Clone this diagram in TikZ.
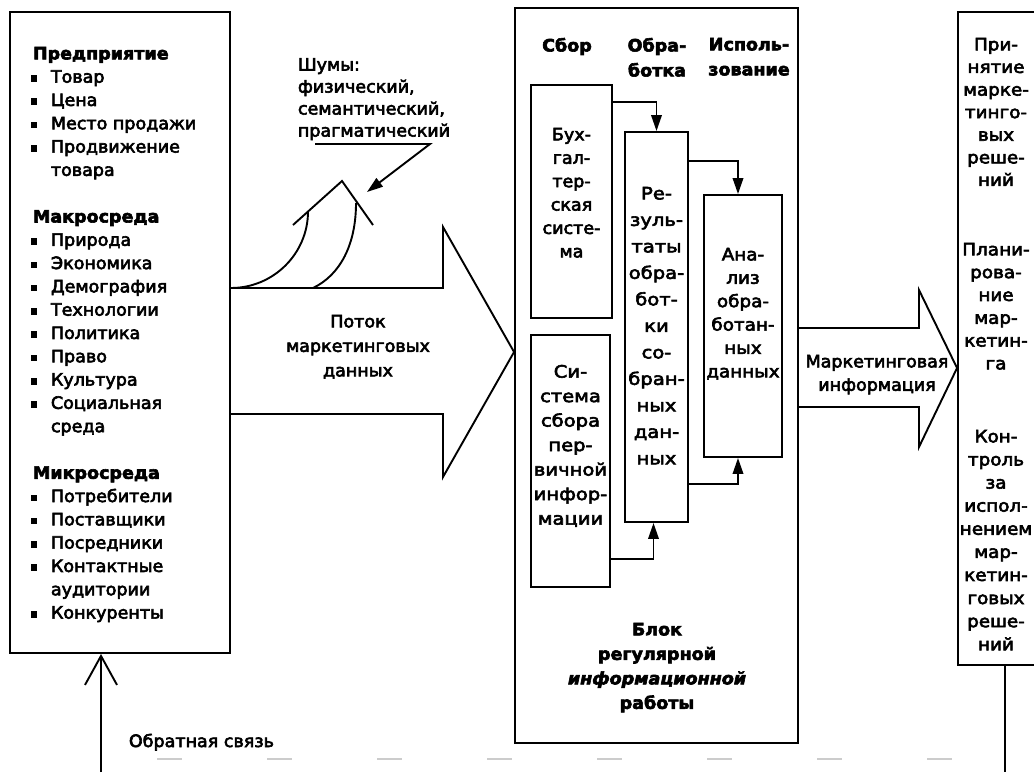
\documentclass[tikz,border=0pt]{standalone}
\usepackage{fontspec}
\setmainfont[FakeStretch=1.03,FakeBold=3.5]{DejaVu Sans}
\newfontfamily\wideA[FakeStretch=1.15,FakeBold=3.5]{DejaVu Sans}
\newfontfamily\wideD[FakeStretch=1.08,FakeBold=3.5]{DejaVu Sans}
\usetikzlibrary{arrows.meta}

% list bullet, continuation indent and section heading for the left panel
\newcommand{\blt}{\makebox[20pt][l]{\rule[1pt]{6.5pt}{6.5pt}}}
\newcommand{\ind}{\hspace*{20pt}}
\newcommand{\hdr}[1]{\hspace*{2pt}\textbf{#1}}

\begin{document}
\begin{tikzpicture}[x=1pt,y=-1pt,line width=1.9pt,line join=miter,
  txt/.style={inner sep=0pt,align=center,font=\fontsize{17}{23.4}\selectfont},
  boxnode/.style={draw,inner sep=0pt},
  conn/.style={-{Triangle[length=16pt,width=10.5pt]}},
  faint/.style={gray!40,line width=1.3pt,dash pattern=on 25pt off 85pt}]

\useasboundingbox (0,0) rectangle (1034,772);
\clip (0,0) rectangle (1034,772);

% ---------- main blocks ----------
\node[boxnode,minimum width=220pt,minimum height=641pt] (L) at (120,332.5) {};
\node[boxnode,minimum width=283pt,minimum height=735pt] (M) at (656.5,375.5) {};
\node[boxnode,minimum width=78pt,minimum height=653pt] (R) at (997,338.5) {};

% ---------- left panel: environment factors ----------
\node[txt,align=left,anchor=north west,font=\fontsize{17}{23.3}\selectfont] (Ltxt) at (30,46) {%
\hdr{Предприятие}\\
\blt Товар\\
\blt Цена\\
\blt Место продажи\\
\blt Продвижение\\
\ind товара\\[23.3pt]
\hdr{Макросреда}\\
\blt Природа\\
\blt Экономика\\
\blt Демография\\
\blt Технологии\\
\blt Политика\\
\blt Право\\
\blt Культура\\
\blt Социальная\\
\ind среда\\[23.3pt]
\hdr{Микросреда}\\
\blt Потребители\\
\blt Поставщики\\
\blt Посредники\\
\blt Контактные\\
\ind аудитории\\
\blt Конкуренты};

% ---------- data flow arrow ----------
\draw (L.east |- 0,288) -- (443,288) -- (443,227) -- (M.west |- 0,352)
      -- (443,477) -- (443,414) -- (L.east |- 0,414);
\node[txt,anchor=north,font=\fontsize{17}{24.5}\selectfont] (flow) at (358,314)
  {Поток\\маркетинговых\\данных};

% ---------- noise ----------
\draw (L.east |- 0,288) .. controls (273.5,288) and (308,253.5) .. (308,211.5);
\draw (313,288) .. controls (340,275) and (356,245) .. (356,203);
\draw (293,225) -- (342,181) -- (373,225);
\node[txt,align=left,anchor=south west,font=\fontsize{17}{22}\selectfont] (noise) at (297,141)
  {Шумы:\\физический,\\семантический,\\прагматический};
\coordinate (nz1) at (315,144);
\coordinate (nz2) at (430,144);
\coordinate (nz3) at (367,192);
\draw[conn] (nz1) -- (nz2) -- (nz3);

% ---------- regular information block ----------
\node[txt,anchor=north,font=\bfseries\fontsize{17}{25}\selectfont] (h1) at (567,37) {Сбор};
\node[txt,anchor=north,font=\bfseries\fontsize{17}{25}\selectfont] (h2) at (657,37) {Обра-\\ботка};
\node[txt,anchor=north,font=\bfseries\fontsize{17}{25}\selectfont] (h3) at (749,37) {Исполь-\\зование};

\node[boxnode,minimum width=81pt,minimum height=233pt] (A) at (571.5,201.5) {};
\node[boxnode,minimum width=79pt,minimum height=252pt] (B) at (570.5,461) {};
\node[boxnode,minimum width=63pt,minimum height=390pt] (C) at (656.5,327) {};
\node[boxnode,minimum width=78pt,minimum height=262pt] (D) at (743,326) {};

\node[txt,anchor=north] (At) at (571.5,127) {Бух-\\гал-\\тер-\\ская\\систе-\\ма};
\node[txt,anchor=north,font=\wideA\fontsize{17}{24.5}\selectfont] (Bt) at (570.5,364)
  {Си-\\стема\\сбора\\пер-\\вичной\\инфор-\\мации};
\node[txt,anchor=north,font=\wideA\fontsize{17}{26.5}\selectfont] (Ct) at (656.5,186)
  {Ре-\\зуль-\\таты\\обра-\\бот-\\ки\\со-\\бран-\\ных\\дан-\\ных};
\node[txt,anchor=north,font=\wideD\fontsize{17}{23.4}\selectfont] (Dt) at (743,247)
  {Ана-\\лиз\\обра-\\ботан-\\ных\\данных};

\draw[conn] ([yshift=-18pt]A.north east) -| (C.north);
\draw[conn] ([yshift=-30pt]C.north east) -| ([xshift=-5pt]D.north);
\draw[conn] ([yshift=29pt]B.south east) -| ([xshift=-3pt]C.south);
\draw[conn] ([yshift=39pt]C.south east) -| ([xshift=-5pt]D.south);

\node[txt,anchor=north,font=\bfseries\fontsize{17}{24.5}\selectfont] (blk) at (657,622)
  {Блок\\регулярной\\\textit{информационной}\\работы};

% ---------- marketing information arrow ----------
\draw (M.east |- 0,328) -- (919,328) -- (919,290) -- (R.west |- 0,368)
      -- (919,447) -- (919,407) -- (M.east |- 0,407);
\node[txt,anchor=north] (mi) at (877,354) {Маркетинговая\\информация};

% ---------- decisions panel ----------
\node[txt,anchor=north,font=\wideD\fontsize{17}{22.6}\selectfont] (r1) at (996,37)
  {При-\\нятие\\марке-\\тинго-\\вых\\реше-\\ний};
\node[txt,anchor=north,font=\wideD\fontsize{17}{22.8}\selectfont] (r2) at (996,242)
  {Плани-\\рова-\\ние\\мар-\\кетин-\\га};
\node[txt,anchor=north,font=\wideD\fontsize{17}{23.1}\selectfont] (r3) at (996,429)
  {Кон-\\троль\\за\\испол-\\нением\\мар-\\кетин-\\говых\\реше-\\ний};

% ---------- feedback ----------
\coordinate (fbL) at (101,772);
\coordinate (fbR) at (1005,772);
\draw[-{Straight Barb[length=29pt,width=32pt]}] (fbL) -- (L.south -| fbL);
\draw (R.south -| fbR) -- (fbR);
\draw[faint] ([xshift=56pt,yshift=13pt]fbL) -- ([xshift=-45pt,yshift=13pt]fbR);
\node[txt,anchor=base west] (fbt) at (128,747) {Обратная связь};

\end{tikzpicture}
\end{document}
